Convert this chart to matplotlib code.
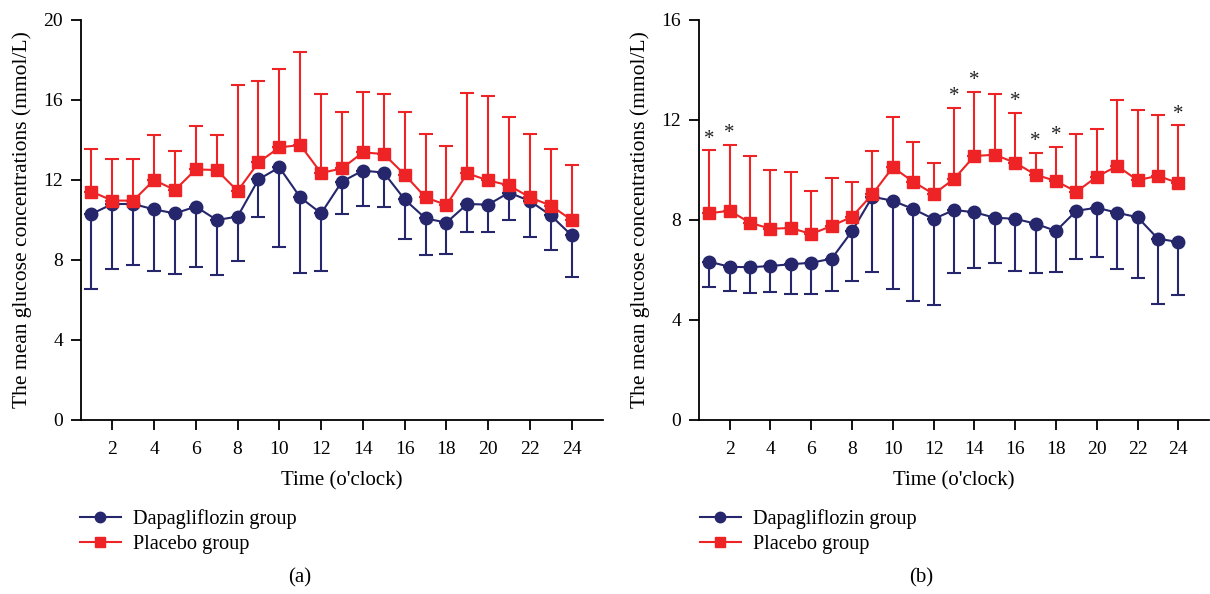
import matplotlib
matplotlib.use("Agg")
import matplotlib.pyplot as plt
from matplotlib.lines import Line2D
import numpy as np

plt.rcParams['font.family'] = ['Liberation Serif', 'DejaVu Serif']

hours = list(range(1, 25))

# panel (a)
dapa_a = [10.30, 10.80, 10.80, 10.53, 10.33, 10.67, 10.00, 10.17, 12.03, 12.63, 11.13, 10.33,
          11.92, 12.47, 12.37, 11.03, 10.08, 9.87, 10.80, 10.77, 11.37, 10.95, 10.23, 9.23]
dapa_a_low = [6.57, 7.57, 7.75, 7.47, 7.30, 7.65, 7.25, 7.95, 10.17, 8.67, 7.37, 7.45,
              10.32, 10.68, 10.65, 9.07, 8.25, 8.30, 9.42, 9.42, 10.00, 9.17, 8.50, 7.13]
plac_a = [11.42, 10.97, 10.97, 12.00, 11.50, 12.53, 12.50, 11.45, 12.88, 13.63, 13.75, 12.35,
          12.58, 13.38, 13.30, 12.27, 11.13, 10.75, 12.33, 11.98, 11.73, 11.13, 10.72, 10.00]
plac_a_high = [13.57, 13.05, 13.05, 14.23, 13.45, 14.70, 14.25, 16.75, 16.95, 17.55, 18.40, 16.30,
               15.40, 16.40, 16.30, 15.40, 14.32, 13.70, 16.37, 16.20, 15.15, 14.28, 13.57, 12.75]

# panel (b)
dapa_b = [6.33, 6.13, 6.11, 6.16, 6.23, 6.29, 6.45, 7.55, 8.93, 8.77, 8.44, 8.04,
          8.40, 8.31, 8.09, 8.05, 7.85, 7.56, 8.37, 8.49, 8.29, 8.11, 7.25, 7.12]
dapa_b_low = [5.31, 5.16, 5.09, 5.12, 5.05, 5.05, 5.17, 5.56, 5.93, 5.25, 4.77, 4.61,
              5.87, 6.07, 6.29, 5.95, 5.89, 5.93, 6.43, 6.53, 6.03, 5.67, 4.63, 4.99]
plac_b = [8.27, 8.37, 7.89, 7.65, 7.68, 7.44, 7.76, 8.13, 9.03, 10.11, 9.53, 9.04,
          9.64, 10.56, 10.61, 10.29, 9.81, 9.56, 9.13, 9.73, 10.16, 9.59, 9.77, 9.47]
plac_b_high = [10.79, 11.00, 10.57, 10.00, 9.92, 9.16, 9.68, 9.52, 10.76, 12.12, 11.12, 10.28,
               12.48, 13.12, 13.04, 12.28, 10.68, 10.92, 11.44, 11.64, 12.80, 12.41, 12.20, 11.79]
signif_b = [1, 2, 13, 14, 16, 17, 18, 24]

blue = '#25266b'
red = '#ee2325'


def panel(ax, dapa, dapa_low, plac, plac_high, ymax, ystep, stars=()):
    d = np.array(dapa)
    p = np.array(plac)
    ax.errorbar(hours, d, yerr=[d - np.array(dapa_low), np.zeros_like(d)],
                color=blue, marker='o', ms=9, lw=1.5, elinewidth=1.5,
                capsize=4.7, capthick=1.5, zorder=2)
    ax.errorbar(hours, p, yerr=[np.zeros_like(p), np.array(plac_high) - p],
                color=red, marker='s', ms=9, lw=1.5, elinewidth=1.5,
                capsize=4.7, capthick=1.5, zorder=3)
    for h in stars:
        ax.text(h, plac_high[h - 1] + ymax * 0.004, '*', ha='center', va='bottom',
                fontsize=15, color='#222222')
    ax.set_xlim(0.5, 25.5)
    ax.set_ylim(0, ymax)
    ax.set_xticks(range(2, 25, 2))
    ax.set_yticks(np.arange(0, ymax + 0.1, ystep))
    for s in ['top', 'right']:
        ax.spines[s].set_visible(False)
    for s in ['left', 'bottom']:
        ax.spines[s].set_linewidth(1.3)
    ax.tick_params(length=7, width=1.3, labelsize=14)
    ax.tick_params(axis='x', pad=8)
    ax.tick_params(axis='y', pad=6)
    ax.set_xlabel("Time (o'clock)", fontsize=15, labelpad=10)
    ax.set_ylabel('The mean glucose concentrations (mmol/L)', fontsize=15.5)


fig = plt.figure(figsize=(12.1, 5.94), dpi=100)
ax1 = fig.add_axes([81 / 1210, 1 - 420 / 594, 522 / 1210, 400 / 594])
ax2 = fig.add_axes([699 / 1210, 1 - 420 / 594, 510 / 1210, 400 / 594])

panel(ax1, dapa_a, dapa_a_low, plac_a, plac_a_high, 20, 4)
panel(ax2, dapa_b, dapa_b_low, plac_b, plac_b_high, 16, 4, signif_b)
ax1.yaxis.set_label_coords(-0.094, 0.5)
ax2.yaxis.set_label_coords(-0.096, 0.5)

handles = [Line2D([], [], color=blue, marker='o', ms=7.5, lw=1.5),
           Line2D([], [], color=red, marker='s', ms=7, lw=1.5)]
labels = ['Dapagliflozin group', 'Placebo group']

for ax, x0, lab, xl in [(ax1, 80, '(a)', 300), (ax2, 700, '(b)', 921)]:
    ax.legend(handles, labels, loc='upper left', bbox_to_anchor=(x0 / 1210, 1 - 509 / 594),
              bbox_transform=fig.transFigure, frameon=False, borderpad=0,
              borderaxespad=0, handlelength=2.0, handletextpad=0.6,
              labelspacing=0.3, fontsize=14.6)
    fig.text(xl / 1210, 1 - 578 / 594, lab, ha='center', va='center', fontsize=15)

fig.savefig('out.png', dpi=100)
